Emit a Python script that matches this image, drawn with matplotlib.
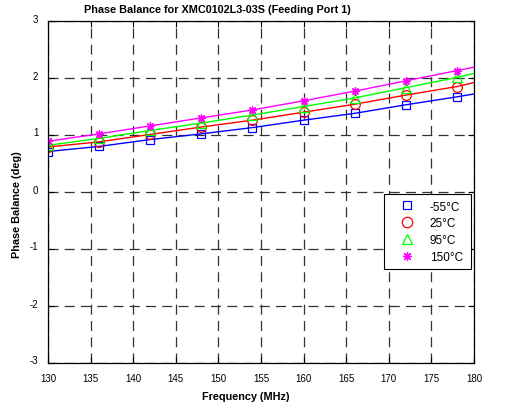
import matplotlib
matplotlib.use("Agg")
import matplotlib.pyplot as plt
import matplotlib.transforms as mtransforms
from matplotlib.lines import Line2D

plt.rcParams['font.family'] = ['Liberation Sans', 'DejaVu Sans']
plt.rcParams['axes.unicode_minus'] = False

freq = [130, 136, 142, 148, 154, 160, 166, 172, 178, 180]
m55 = [0.71, 0.80, 0.92, 1.02, 1.13, 1.26, 1.38, 1.53, 1.67, 1.72]
p25 = [0.79, 0.88, 1.01, 1.14, 1.26, 1.40, 1.54, 1.70, 1.85, 1.92]
p95 = [0.82, 0.94, 1.08, 1.21, 1.35, 1.50, 1.65, 1.83, 2.01, 2.08]
p150 = [0.89, 1.02, 1.16, 1.30, 1.44, 1.60, 1.77, 1.95, 2.13, 2.19]
labels = ['-55°C', '25°C', '95°C', '150°C']
xticks = list(range(130, 181, 5))
yticks = list(range(-3, 4))

fig = plt.figure(figsize=(5.09, 4.06), dpi=100)
ax = fig.add_axes([48/509, 1-364/406, (474-48)/509, (364-22)/406])

series = [m55, p25, p95, p150]
colors = ['#0000ff', '#ff0000', '#00ff00', '#ff00ff']
markers = ['s', 'o', '^', (8, 2, 0)]
msizes = [5.5, 7, 7, 6]
handles = []
for s, c, m, ms, lab in zip(series, colors, markers, msizes, labels):
    ax.plot(freq, s, color=c, lw=1.0, marker=m, ms=ms, mfc='none', mec=c, mew=0.9,
            markevery=list(range(len(freq) - 1)))
    handles.append(Line2D([], [], ls='none', marker=m, ms=ms + 0.5, mfc='none', mec=c,
                          mew=0.9, color=c, label=lab))

ax.set_xlim(130, 180)
ax.set_ylim(-3, 3)
ax.set_xticks(xticks)
ax.set_yticks(yticks)
ax.tick_params(direction='in', top=True, right=True, labelsize=7, length=4, width=0.8)
ax.tick_params(axis='x', pad=7)
ax.tick_params(axis='y', pad=7)
offset = mtransforms.ScaledTranslation(0, 3.5/100, fig.dpi_scale_trans)
for lbl in ax.get_yticklabels():
    lbl.set_transform(lbl.get_transform() + offset)
ax.grid(True, color='#333333', ls=(0, (8, 5)), lw=0.9)
for sp in ax.spines.values():
    sp.set_linewidth(0.9)

leg = ax.legend(handles=handles, loc='upper left',
                bbox_to_anchor=(0.789, 0.2865, 0.204, 0.2075), mode='expand',
                fontsize=8.5, frameon=True, fancybox=False, edgecolor='black',
                framealpha=1, handletextpad=0.6, labelspacing=0.4, borderpad=0.55,
                handlelength=2.7, borderaxespad=0)
leg.get_frame().set_linewidth(0.8)

fig.text(217/509, 1-10/406, 'Phase Balance for XMC0102L3-03S (Feeding Port 1)',
         ha='center', va='center', fontsize=7.8, fontweight='bold')
fig.text(246/509, 1-397/406, 'Frequency (MHz)', ha='center', va='center',
         fontsize=7.8, fontweight='bold')
fig.text(17/509, 1-205/406, 'Phase Balance (deg)', ha='center', va='center',
         rotation=90, fontsize=7.8, fontweight='bold')

fig.savefig('out.png', dpi=100)
